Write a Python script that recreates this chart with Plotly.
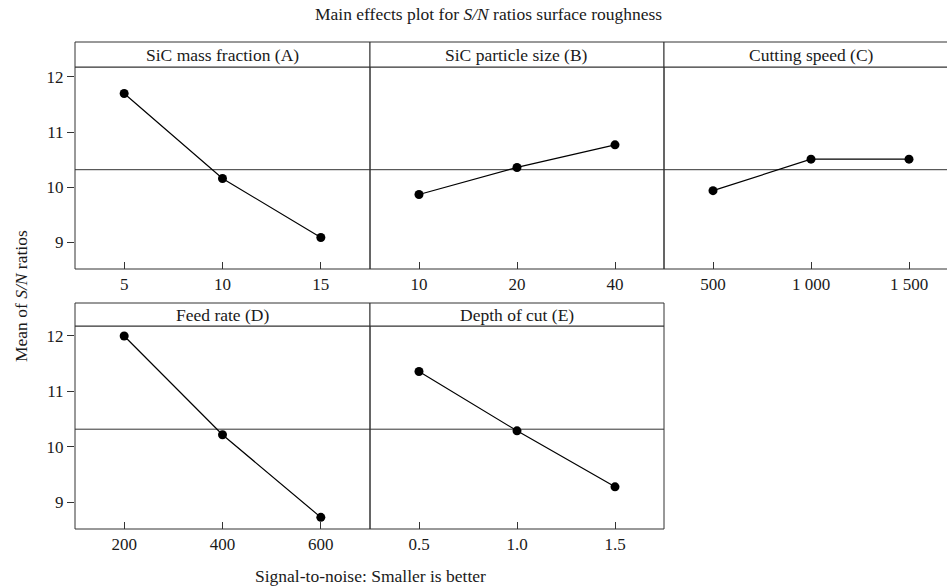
import plotly.graph_objects as go

# ---- data ----
panel_titles = ["SiC mass fraction (A)", "SiC particle size (B)", "Cutting speed (C)",
                "Feed rate (D)", "Depth of cut (E)"]
levels_A = ["5", "10", "15"]
levels_B = ["10", "20", "40"]
levels_C = ["500", "1 000", "1 500"]
levels_D = ["200", "400", "600"]
levels_E = ["0.5", "1.0", "1.5"]
means_A = [11.70, 10.16, 9.09]
means_B = [9.87, 10.36, 10.77]
means_C = [9.94, 10.51, 10.51]
means_D = [12.00, 10.22, 8.73]
means_E = [11.36, 10.29, 9.28]
y_ticks = [9, 10, 11, 12]

levels = [levels_A, levels_B, levels_C, levels_D, levels_E]
means = [means_A, means_B, means_C, means_D, means_E]
all_vals = [v for m in means for v in m]
grand_mean = sum(all_vals) / len(all_vals)

W, H = 947, 586
FONT = "Liberation Serif, Times New Roman, serif"
LC = "#333333"
TC = "#1a1a1a"
FS = 17.5

def px(x):
    return x / W

def py(y):
    return 1 - y / H

xdoms = [(px(75), px(370)), (px(370), px(664)), (px(664), 1.0),
         (px(75), px(370)), (px(370), px(664))]
row_plot = [(py(269), py(67)), (py(529), py(326))]
row_strip = [(py(67), py(42)), (py(326), py(303))]
rows = [0, 0, 0, 1, 1]
yrange = [8.52, 12.18]

fig = go.Figure()
shapes = []
annotations = []
for i in range(5):
    n = i + 1
    xa = "x" if n == 1 else f"x{n}"
    ya = "y" if n == 1 else f"y{n}"
    fig.add_trace(go.Scatter(
        x=levels[i], y=means[i], xaxis=xa, yaxis=ya, mode="lines+markers",
        line=dict(color="black", width=1.2),
        marker=dict(color="black", size=9), showlegend=False,
        cliponaxis=False))
    r = rows[i]
    xr = [-0.5, 2.5]
    if i == 2:
        xr = [-0.5, 2.5 - 11 / 98]
    xkey = "xaxis" if n == 1 else f"xaxis{n}"
    ykey = "yaxis" if n == 1 else f"yaxis{n}"
    fig.layout[xkey] = dict(
        domain=list(xdoms[i]), anchor=ya, type="category", range=xr,
        showgrid=False, zeroline=False, showline=False,
        ticks="inside", ticklen=7, tickcolor=LC, tickwidth=1,
        ticklabelstandoff=3,
        tickfont=dict(family=FONT, size=17, color=TC), fixedrange=True)
    first_col = i in (0, 3)
    fig.layout[ykey] = dict(
        domain=list(row_plot[r]), anchor=xa, range=yrange,
        showgrid=False, zeroline=False, showline=False,
        tickvals=y_ticks if first_col else [],
        ticks="outside" if first_col else "", ticklen=7, tickcolor=LC,
        showticklabels=first_col,
        tickfont=dict(family=FONT, size=17, color=TC), fixedrange=True)
    # grand mean reference line
    shapes.append(dict(type="line", xref=f"{xa} domain", yref=ya, x0=0, x1=1,
                       y0=grand_mean, y1=grand_mean,
                       line=dict(color=LC, width=1), layer="below"))
    x0, x1 = xdoms[i]
    if i == 2:
        x1 = px(958)
    p0, p1 = row_plot[r]
    # panel border
    shapes.append(dict(type="rect", xref="paper", yref="paper", x0=x0, x1=x1,
                       y0=p0, y1=p1, line=dict(color=LC, width=1),
                       fillcolor="rgba(0,0,0,0)", layer="above"))
    # strip box
    s0, s1 = row_strip[r]
    shapes.append(dict(type="rect", xref="paper", yref="paper", x0=x0, x1=x1,
                       y0=s0, y1=s1, line=dict(color=LC, width=1),
                       fillcolor="white", layer="above"))
    annotations.append(dict(text=panel_titles[i], xref="paper", yref="paper",
                            x=(x0 + x1) / 2, y=(s0 + s1) / 2, showarrow=False,
                            xanchor="center", yanchor="middle",
                            font=dict(family=FONT, size=FS, color=TC)))

annotations.append(dict(text="Main effects plot for <i>S/N</i> ratios surface roughness",
                        xref="paper", yref="paper", x=px(488), y=py(14),
                        showarrow=False, xanchor="center", yanchor="middle",
                        font=dict(family=FONT, size=FS, color=TC)))
annotations.append(dict(text="Mean of <i>S/N</i> ratios", xref="paper", yref="paper",
                        x=px(21), y=py(296), showarrow=False, textangle=-90,
                        xanchor="center", yanchor="middle",
                        font=dict(family=FONT, size=FS, color=TC)))
annotations.append(dict(text="Signal-to-noise: Smaller is better", xref="paper",
                        yref="paper", x=px(370), y=py(576), showarrow=False,
                        xanchor="center", yanchor="middle",
                        font=dict(family=FONT, size=FS, color=TC)))

fig.update_layout(width=W, height=H, margin=dict(l=0, r=0, t=0, b=0),
                  paper_bgcolor="white", plot_bgcolor="white",
                  shapes=shapes, annotations=annotations)
fig.write_html("out.html", config={"displayModeBar": False})
